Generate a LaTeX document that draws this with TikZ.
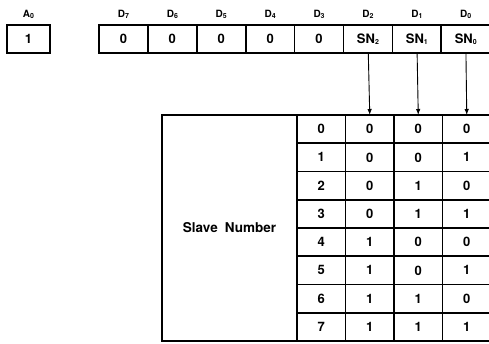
\documentclass[tikz,border=0pt]{standalone}
\usepackage{fontspec}
\setmainfont{TeX Gyre Heros}
\usetikzlibrary{arrows.meta,positioning}
\newcommand{\lowidx}[1]{\raisebox{-0.2ex}{\fontsize{7}{7}\selectfont #1}}
\tikzset{
  cell/.style={draw,line width=1.7pt,outer sep=0pt,inner sep=0pt,font=\bfseries\fontsize{13}{14}\selectfont,minimum height=28pt,minimum width=48.9pt},
  bitname/.style={inner sep=1pt,font=\bfseries\fontsize{10}{11}\selectfont},
  tabcell/.style={cell,minimum height=28.25pt,minimum width=48.5pt},
  flow/.style={-{Latex[length=6pt,width=4.5pt]},line width=0.9pt}
}
\begin{document}
\begin{tikzpicture}[x=1pt,y=-1pt]
\useasboundingbox (0,0) rectangle (489,344);
% address bit
\node[cell,minimum width=43pt] (a0) at (28.5,39) {1};
\node[bitname,above=5pt of a0] (a0name) {A\lowidx{0}};
% data register
\node[cell] (d7) at (123.45,39) {0};
\node[cell,right=0pt of d7] (d6) {0};
\node[cell,right=0pt of d6] (d5) {0};
\node[cell,right=0pt of d5] (d4) {0};
\node[cell,right=0pt of d4] (d3) {0};
\node[cell,right=0pt of d3] (d2) {SN\lowidx{2}};
\node[cell,right=0pt of d2] (d1) {SN\lowidx{1}};
\node[cell,right=0pt of d1] (d0) {SN\lowidx{0}};
\foreach \b in {7,6,5,4,3,2,1,0}
  \node[bitname,above=5pt of d\b] (d\b name) {D\lowidx{\b}};
% slave number table
\foreach \r in {0,...,7} {
  \pgfmathtruncatemacro{\bitc}{int(\r/4)}
  \pgfmathtruncatemacro{\bitb}{mod(int(\r/2),2)}
  \pgfmathtruncatemacro{\bita}{mod(\r,2)}
  \node[tabcell] (sn\r) at (321.25,{129.125+28.25*\r}) {\r};
  \node[tabcell,right=0pt of sn\r] (sn\r c) {\bitc};
  \node[tabcell,right=0pt of sn\r c] (sn\r b) {\bitb};
  \node[tabcell,right=0pt of sn\r b] (sn\r a) {\bita};
}
\node[cell,anchor=north east,minimum width=135pt,minimum height=226pt,font=\bfseries\fontsize{13.5}{15}\selectfont] (slave) at (sn0.north west) {Slave\hspace{0.25em} Number};
\draw[flow] (d2) -- (sn0c.north);
\draw[flow] (d1) -- (sn0b.north);
\draw[flow] (d0) -- (sn0a.north);
\end{tikzpicture}
\end{document}
